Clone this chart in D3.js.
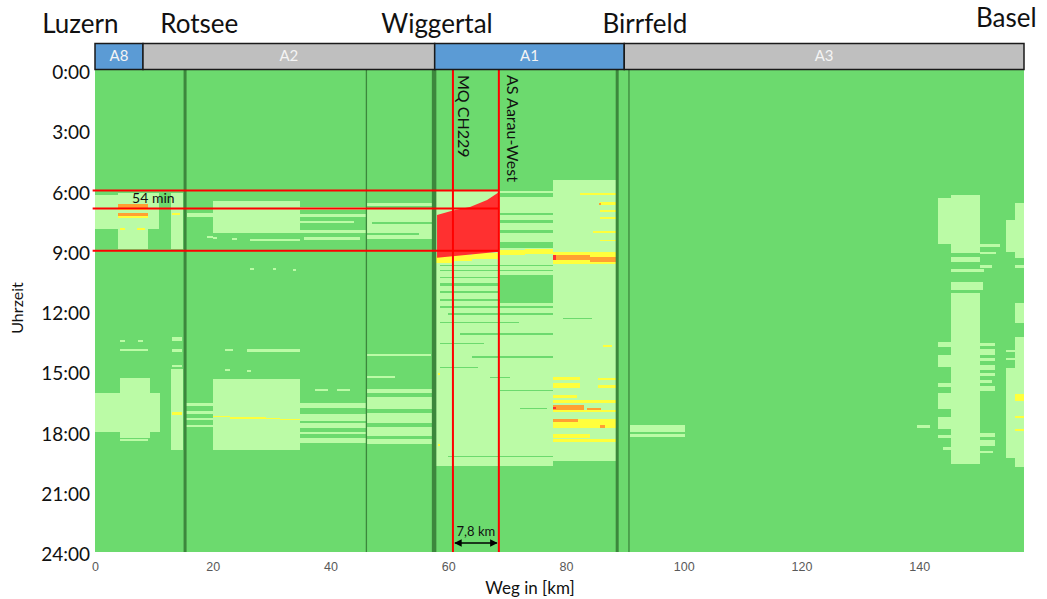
<!DOCTYPE html>
<html>
<head>
<meta charset="utf-8">
<script src="https://cdn.jsdelivr.net/npm/d3@7.9.0/dist/d3.min.js"></script>
<style>
  body { margin: 0; background: #fff; }
  svg { display: block; font-family: Lato, "Open Sans", sans-serif; }
</style>
</head>
<body>
<svg id="chart" width="1047" height="599"></svg>
<script>
// --- data: km along the route, hours of the day ---
const sections = [
  { name: "A8", from: 0, to: 8.15, kind: "blue" },
  { name: "A2", from: 8.15, to: 57.7, kind: "grey" },
  { name: "A1", from: 57.7, to: 89.9, kind: "blue" },
  { name: "A3", from: 89.9, to: 157.8, kind: "grey" }
];
const places = [
  ["Luzern", -2.5], ["Rotsee", 17.7], ["Wiggertal", 58.1], ["Birrfeld", 93.4], ["Basel", 154.8]
];
const xTicks = [0, 20, 40, 60, 80, 100, 120, 140];
const yTicks = [0, 3, 6, 9, 12, 15, 18, 21, 24];
const majorJunctions = [15.3, 57.6, 88.7];
const minorJunctions = [46.1, 90.7];

// [km from, km to, hour from, hour to]
const lightCells = [
  // morning Luzern - Wiggertal
  [0, 3.9, 6.2, 7.9], [3.9, 9.0, 6.1, 8.9], [9.0, 10.8, 6.1, 7.9], [12.9, 14.9, 6.1, 8.9],
  [15.7, 20.0, 7.12, 7.3], [19.0, 20.0, 8.25, 8.35],
  [20.0, 34.8, 6.5, 8.1],
  [34.8, 46.2, 6.8, 6.95], [34.8, 46.2, 7.15, 7.3], [34.8, 44.0, 7.5, 7.62], [34.8, 46.2, 7.95, 8.1], [35.5, 45.0, 8.3, 8.45],
  [20.0, 20.7, 8.3, 8.4], [23.3, 24.1, 8.35, 8.45], [26.3, 34.8, 8.4, 8.5],
  [26.3, 27.0, 9.85, 9.95], [30.2, 30.8, 9.85, 9.95], [33.6, 34.2, 9.9, 10.0],
  [46.2, 57.4, 6.6, 8.4],
  // Wiggertal - Birrfeld
  [57.9, 68.6, 6.0, 9.1], [68.6, 77.8, 6.0, 9.0], [77.8, 88.7, 5.5, 19.45], [57.9, 77.8, 9.0, 19.7],
  [72.2, 72.6, 10.75, 10.85], [76.1, 76.5, 10.75, 10.85],
  // afternoon Luzern - Wiggertal
  [0, 11.0, 16.1, 18.0], [4.25, 9.35, 15.35, 18.3], [4.25, 9.0, 18.35, 18.45],
  [12.9, 14.95, 14.9, 18.9],
  [4.25, 5.1, 13.45, 13.55], [7.3, 8.15, 13.45, 13.55], [4.25, 9.0, 13.9, 14.0],
  [13.1, 14.8, 13.3, 13.5], [13.1, 14.8, 13.9, 14.05], [13.1, 14.8, 14.7, 14.8],
  [15.5, 20.0, 16.6, 16.75], [15.5, 20.0, 17.0, 17.15], [15.5, 20.0, 17.35, 17.45], [15.5, 20.0, 17.7, 17.8],
  [20.0, 34.8, 15.4, 18.9],
  [34.8, 46.2, 16.6, 16.85], [34.8, 46.2, 17.15, 17.5], [34.8, 46.2, 17.6, 17.85], [34.8, 46.2, 18.0, 18.1], [34.8, 46.2, 18.3, 18.55],
  [22.0, 23.5, 13.9, 14.0], [25.8, 34.8, 13.9, 14.05], [22.0, 23.0, 14.9, 15.0], [25.8, 26.5, 14.95, 15.05],
  [46.2, 57.0, 14.15, 14.25], [46.2, 51.0, 15.25, 15.35], [37.4, 39.6, 15.9, 16.0], [41.1, 43.3, 15.9, 16.0],
  [46.2, 57.4, 15.9, 16.1], [46.2, 57.4, 16.3, 16.9], [46.2, 57.4, 17.1, 17.6], [46.2, 57.4, 17.8, 18.2], [46.2, 57.4, 18.35, 18.6],
  // Birrfeld - Basel
  [90.9, 100.2, 17.68, 18.0], [90.9, 100.2, 18.1, 18.25], [139.7, 141.9, 17.7, 17.85],
  [143.2, 150.4, 6.35, 8.65], [145.4, 150.4, 6.2, 9.1],
  [150.4, 153.8, 8.65, 8.8], [150.4, 153.0, 9.05, 9.15], [145.4, 150.4, 9.3, 9.55], [150.4, 152.4, 9.7, 9.85], [145.4, 151.0, 9.9, 10.05],
  [145.4, 150.8, 10.55, 10.95], [145.4, 150.4, 11.1, 19.6],
  [143.2, 145.4, 13.55, 13.8], [143.2, 145.4, 14.2, 14.8], [143.2, 145.4, 15.6, 15.8], [143.2, 145.4, 16.1, 16.9],
  [143.2, 145.4, 17.3, 17.9], [143.2, 145.4, 18.15, 18.3], [144.0, 145.4, 18.75, 18.9],
  [150.4, 152.8, 13.6, 13.75], [150.4, 152.8, 13.9, 14.2], [150.4, 152.8, 14.35, 14.5], [150.4, 152.8, 14.7, 14.95],
  [150.4, 152.8, 15.1, 15.25], [150.4, 152.3, 15.45, 15.6], [150.4, 152.8, 15.75, 16.0],
  [150.4, 152.8, 18.05, 18.25], [150.4, 152.8, 18.4, 18.7], [150.4, 152.6, 18.95, 19.05],
  [156.3, 157.8, 6.6, 9.35], [154.8, 156.3, 7.45, 9.05], [156.3, 157.8, 9.7, 9.85],
  [156.3, 157.8, 11.6, 12.6], [156.3, 157.8, 13.3, 19.75],
  [154.8, 156.3, 13.95, 14.05], [154.8, 156.3, 14.35, 14.45], [154.8, 156.3, 14.85, 19.3]
];
// free-flow gaps inside the slow zones
const freeCells = [
  [46.2, 57.4, 6.75, 6.85], [47.0, 57.4, 7.55, 7.68], [46.2, 55.0, 8.1, 8.2],
  [68.8, 77.8, 6.1, 6.3], [68.8, 77.8, 7.1, 7.2], [68.8, 77.8, 7.45, 7.6], [68.8, 77.8, 7.95, 8.1], [68.8, 77.8, 8.55, 8.85],
  [58.6, 77.8, 9.7, 9.78], [58.6, 77.8, 9.95, 10.02], [58.6, 68.6, 10.3, 10.38], [58.6, 68.6, 10.6, 10.75],
  [68.8, 77.8, 10.2, 11.6], [58.6, 68.6, 11.0, 11.08], [58.6, 77.8, 11.4, 11.5], [58.6, 77.8, 11.75, 11.85],
  [60.0, 77.8, 12.1, 12.18], [58.6, 72.0, 12.55, 12.62], [62.0, 77.8, 13.1, 13.2], [58.6, 66.0, 13.6, 13.65],
  [64.0, 77.8, 14.25, 14.32], [58.6, 65.0, 14.8, 14.85], [67.1, 70.5, 15.3, 15.35], [68.8, 77.8, 15.92, 15.98],
  [72.2, 76.8, 16.83, 16.88], [60.0, 77.8, 19.2, 19.28], [79.5, 84.5, 12.35, 12.42]
];
const yellowCells = [
  [3.9, 9.0, 6.85, 6.97], [3.9, 9.0, 7.25, 7.35], [4.25, 5.1, 7.85, 7.95], [7.1, 8.5, 7.85, 7.95], [13.1, 14.4, 7.1, 7.2],
  [57.9, 61.0, 9.25, 9.6], [61.0, 64.0, 9.2, 9.5], [64.0, 68.6, 9.1, 9.4], [68.6, 73.0, 8.95, 9.2], [73.0, 77.8, 8.9, 9.15],
  [77.8, 88.5, 9.05, 9.65],
  [82.4, 88.7, 6.1, 6.2], [85.8, 88.7, 6.55, 6.7], [85.8, 88.7, 6.95, 7.05], [85.8, 88.7, 7.3, 7.4], [84.6, 88.7, 8.0, 8.1], [85.8, 88.7, 8.45, 8.5],
  [77.8, 82.4, 15.3, 15.45], [77.8, 82.4, 15.6, 15.85], [85.5, 88.7, 15.35, 15.45], [85.5, 88.7, 15.7, 15.85],
  [77.8, 81.9, 16.2, 16.35], [77.8, 88.7, 16.45, 16.6], [77.8, 88.7, 16.95, 17.05],
  [82.0, 88.7, 17.4, 17.7], [77.8, 88.7, 17.55, 17.85], [77.8, 84.0, 18.1, 18.3], [77.8, 88.7, 18.35, 18.5], [86.3, 87.8, 13.7, 13.8],
  [13.1, 14.8, 17.05, 17.2], [20.0, 23.0, 17.22, 17.3], [23.0, 29.0, 17.28, 17.37], [29.0, 31.5, 17.32, 17.4], [31.5, 34.8, 17.36, 17.44],
  [58.2, 58.6, 15.1, 15.2], [58.2, 58.6, 18.6, 18.7],
  [156.3, 157.8, 16.15, 16.5], [156.3, 157.8, 17.25, 17.35], [156.3, 157.8, 17.9, 17.98]
];
const orangeCells = [
  [3.9, 9.0, 6.65, 6.85], [3.9, 9.0, 7.1, 7.25],
  [77.8, 84.0, 9.2, 9.45], [84.0, 88.5, 9.3, 9.55], [85.6, 86.0, 6.6, 6.7],
  [77.8, 83.0, 16.7, 16.95], [83.5, 86.0, 16.85, 16.95], [77.8, 82.0, 17.4, 17.55], [85.8, 86.7, 17.7, 17.85]
];
const redCells = [[77.8, 78.3, 9.2, 9.45], [77.8, 78.3, 16.8, 16.9]];
// queue behind MQ CH229 / AS Aarau-West
const queueHead = [[58.1, 7.22], [60.8, 7.0], [63.7, 6.82], [66.6, 6.47], [68.4, 6.12], [68.6, 6.0]];
const queueTail = [[68.6, 9.05], [58.1, 9.35]];
const markersKm = [60.8, 68.6];
const markerNames = ["MQ CH229", "AS Aarau-West"];
const refHours = [6.0, 6.9, 9.0];

// --- chart ---
const svg = d3.select("#chart");
const x = d3.scaleLinear().domain([0, 157.8]).range([95, 1024]);
const y = d3.scaleLinear().domain([0, 24]).range([70, 552]);

const colors = { free: "#6cda6e", light: "#bbfba6", yellow: "#ffff3c", orange: "#ffa032", red: "#ff3030" };

svg.append("rect")
  .attr("x", x(0)).attr("y", y(0))
  .attr("width", x(157.8) - x(0)).attr("height", y(24) - y(0))
  .attr("fill", colors.free);

function drawCells(data, color) {
  svg.append("g").selectAll("rect")
    .data(data)
    .join("rect")
    .attr("x", d => x(d[0]))
    .attr("y", d => y(d[2]))
    .attr("width", d => x(d[1]) - x(d[0]))
    .attr("height", d => y(d[3]) - y(d[2]))
    .attr("fill", color)
    .attr("shape-rendering", "crispEdges");
}
drawCells(lightCells, colors.light);
drawCells(freeCells, colors.free);
drawCells(yellowCells, colors.yellow);
drawCells(orangeCells, colors.orange);
drawCells(redCells, colors.red);

let queueLine = d3.line().x(d => x(d[0])).y(d => y(d[1])).curve(d3.curveLinearClosed);
svg.append("path")
  .attr("d", queueLine(queueHead.concat(queueTail)))
  .attr("fill", colors.red);

// junction lines
svg.append("g").selectAll("line")
  .data(majorJunctions)
  .join("line")
  .attr("x1", d => x(d)).attr("x2", d => x(d))
  .attr("y1", y(0)).attr("y2", y(24))
  .attr("stroke", "#3c873c")
  .attr("stroke-width", (d, i) => i === 1 ? 4.5 : 3);
svg.append("g").selectAll("line")
  .data(minorJunctions)
  .join("line")
  .attr("x1", d => x(d)).attr("x2", d => x(d))
  .attr("y1", y(0)).attr("y2", y(24))
  .attr("stroke", "#3c873c")
  .attr("stroke-width", 1.3);

// red reference lines
svg.append("g").selectAll("line")
  .data(refHours)
  .join("line")
  .attr("x1", x(-0.4)).attr("x2", x(markersKm[1]))
  .attr("y1", d => y(d)).attr("y2", d => y(d))
  .attr("stroke", "#ff0000").attr("stroke-width", 2);
svg.append("g").selectAll("line")
  .data(markersKm)
  .join("line")
  .attr("x1", d => x(d)).attr("x2", d => x(d))
  .attr("y1", y(0)).attr("y2", y(24))
  .attr("stroke", "#ff0000").attr("stroke-width", 2);

svg.append("g").selectAll("text")
  .data(markersKm)
  .join("text")
  .attr("transform", (d, i) => `translate(${x(d) + (i === 0 ? 9 : 12)},${y(0) + 5}) rotate(90)`)
  .attr("dominant-baseline", "middle")
  .attr("font-size", 16)
  .attr("fill", "#111")
  .text((d, i) => markerNames[i]);

svg.append("text")
  .attr("x", x(6.3)).attr("y", y(6.45))
  .attr("dominant-baseline", "middle")
  .attr("font-size", 14).attr("fill", "#111")
  .text(`${Math.round((refHours[1] - refHours[0]) * 60)} min`);

// distance arrow
const defs = svg.append("defs");
defs.append("marker")
  .attr("id", "arr").attr("viewBox", "0 0 10 10")
  .attr("refX", 9).attr("refY", 5)
  .attr("markerWidth", 5).attr("markerHeight", 5)
  .attr("orient", "auto-start-reverse")
  .append("path").attr("d", "M0,0 L10,5 L0,10 Z").attr("fill", "#000");
svg.append("line")
  .attr("x1", x(markersKm[0]) + 2).attr("x2", x(markersKm[1]) - 2)
  .attr("y1", y(23.55)).attr("y2", y(23.55))
  .attr("stroke", "#000").attr("stroke-width", 1.5)
  .attr("marker-start", "url(#arr)").attr("marker-end", "url(#arr)");
svg.append("text")
  .attr("x", (x(markersKm[0]) + x(markersKm[1])) / 2).attr("y", y(23.2))
  .attr("text-anchor", "middle").attr("font-size", 13).attr("fill", "#111")
  .text(`${(markersKm[1] - markersKm[0]).toFixed(1).replace(".", ",")} km`);

// road sections bar
const bar = svg.append("g").selectAll("g").data(sections).join("g");
bar.append("rect")
  .attr("x", d => x(d.from)).attr("y", 43.5)
  .attr("width", d => x(d.to) - x(d.from)).attr("height", 26)
  .attr("fill", d => d.kind === "blue" ? "#5b9bd5" : "#bfbfbf")
  .attr("stroke", "#1a1a1a").attr("stroke-width", 1.5);
bar.append("text")
  .attr("x", d => (x(d.from) + x(d.to)) / 2).attr("y", 57)
  .attr("text-anchor", "middle").attr("dominant-baseline", "middle")
  .attr("font-size", 15).attr("fill", "#f4f4f4")
  .text(d => d.name);

svg.append("g").selectAll("text")
  .data(places)
  .join("text")
  .attr("x", d => x(d[1]))
  .attr("y", (d, i) => i === 4 ? 27 : 33)
  .attr("text-anchor", "middle")
  .attr("font-size", 26).attr("fill", "#111")
  .text(d => d[0]);

// axes (labels only)
const xAxis = svg.append("g")
  .attr("transform", `translate(0,${y(24)})`)
  .call(d3.axisBottom(x).tickValues(xTicks).tickSize(0).tickPadding(10));
xAxis.select(".domain").remove();
xAxis.selectAll("text").attr("font-family", "'Liberation Sans', Arial, sans-serif")
  .attr("font-size", 12.5).attr("fill", "#595959");

const yAxis = svg.append("g")
  .attr("transform", `translate(${x(0)},0)`)
  .call(d3.axisLeft(y).tickValues(yTicks).tickSize(0).tickPadding(5).tickFormat(d => `${d}:00`));
yAxis.select(".domain").remove();
yAxis.selectAll("text").attr("font-family", "Lato, sans-serif")
  .attr("font-size", 19).attr("fill", "#111").attr("dy", "0.45em");

svg.append("text")
  .attr("x", 530).attr("y", 594)
  .attr("text-anchor", "middle").attr("font-size", 17).attr("fill", "#111")
  .text("Weg in [km]");
svg.append("text")
  .attr("transform", "translate(23,308) rotate(-90)")
  .attr("text-anchor", "middle").attr("font-size", 16).attr("fill", "#111")
  .text("Uhrzeit");
</script>
</body>
</html>
